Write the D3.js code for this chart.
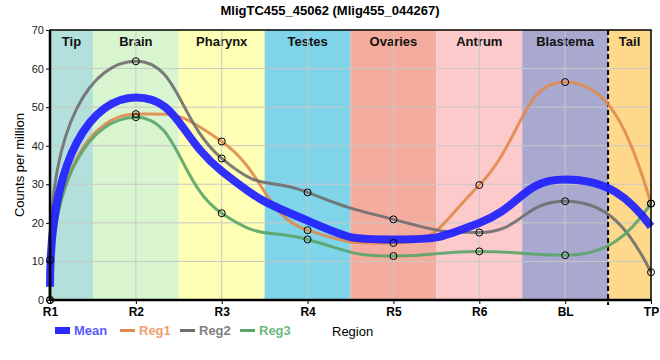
<!DOCTYPE html>
<html><head><meta charset="utf-8">
<script src="https://cdn.jsdelivr.net/npm/d3@7"></script>
<style>body{margin:0;background:#fff;} text{font-family:"Liberation Sans",Arial,sans-serif;}</style>
</head><body>
<svg id="c" width="660" height="360"></svg>
<script>
const categories = ["R1","R2","R3","R4","R5","R6","BL","TP"];
const regions = ["Tip","Brain","Pharynx","Testes","Ovaries","Antrum","Blastema","Tail"];
const regionColors = ["#b4e0dc","#d8f5d0","#fefeb4","#7fd4ea","#f4ac9f","#fdcacc","#a9a8cf","#fed98c"];
const reg1 = [0, 48.2, 41.1, 18.1, 14.8, 29.8, 56.5, 25.0];
const reg2 = [10.4, 61.9, 36.7, 27.9, 20.9, 17.5, 25.6, 7.2];
const reg3 = [0, 47.4, 22.5, 15.7, 11.4, 12.6, 11.6, 25.0];
const mean = categories.map((c,i)=>(reg1[i]+reg2[i]+reg3[i])/3);
const yTicks = [0,10,20,30,40,50,60,70];
const title = "MligTC455_45062 (Mlig455_044267)";

// smooth curve: flat at extrema, long horizontal handles, steep ends
function smoothCurve(ctx){
  let X, Y;
  return {
    areaStart(){}, areaEnd(){},
    lineStart(){X=[];Y=[];},
    point(x,y){X.push(+x);Y.push(+y);},
    lineEnd(){
      const n=X.length, a=0.5, f=1.1, k0=0.7, k1=0.6, b1=0.25;
      const m=new Array(n).fill(0);
      for(let i=1;i<n-1;i++){
        const s0=(Y[i]-Y[i-1])/(X[i]-X[i-1]), s1=(Y[i+1]-Y[i])/(X[i+1]-X[i]);
        const p=(s0+s1)/2;
        m[i]=f*(Math.sign(s0)+Math.sign(s1))*Math.min(Math.abs(s0),Math.abs(s1),0.5*Math.abs(p));
      }
      ctx.moveTo(X[0],Y[0]);
      for(let i=0;i<n-1;i++){
        const h=X[i+1]-X[i];
        let c1x,c1y,c2x,c2y;
        if(i===0){c1x=X[0];c1y=Y[0]+k0*(Y[1]-Y[0]);}
        else {c1x=X[i]+a*h;c1y=Y[i]+m[i]*a*h;}
        if(i+1===n-1){c2x=X[n-1]-b1*h;c2y=Y[n-1]+k1*(Y[n-2]-Y[n-1]);}
        else {c2x=X[i+1]-a*h;c2y=Y[i+1]-m[i+1]*a*h;}
        ctx.bezierCurveTo(c1x,c1y,c2x,c2y,X[i+1],Y[i+1]);
      }
    }
  };
}

const svg = d3.select("#c");
const L=50, R=651, T=30, B=300;
const x = d3.scalePoint().domain(categories).range([L,R]);
const y = d3.scaleLinear().domain([0,70]).range([B,T]);
const step = x.step();

const g = svg.append("g");
regions.forEach((r,i)=>{
  const cx = x(categories[i]);
  const x0 = Math.max(L, cx-step/2), x1 = Math.min(R, cx+step/2);
  g.append("rect").attr("x",x0).attr("y",T).attr("width",x1-x0).attr("height",B-T).attr("fill",regionColors[i]);
  g.append("text").attr("x",(x0+x1)/2).attr("y",T+16).attr("text-anchor","middle")
    .attr("font-size",13).attr("font-weight","bold").attr("fill","#111").text(r);
});
yTicks.slice(1,-1).forEach(v=>{
  g.append("line").attr("x1",L).attr("x2",R).attr("y1",y(v)).attr("y2",y(v)).attr("stroke","#c8c8c8").attr("stroke-width",1);
});
categories.slice(1,-1).forEach(c=>{
  g.append("line").attr("x1",x(c)).attr("x2",x(c)).attr("y1",T).attr("y2",B).attr("stroke","#c8c8c8").attr("stroke-width",1);
});
const xd = x("BL")+step/2;
g.append("line").attr("x1",xd).attr("x2",xd).attr("y1",T).attr("y2",B+5).attr("stroke","#000").attr("stroke-width",2).attr("stroke-dasharray","5,3");

const line = d3.line().x((d,i)=>x(categories[i])).y(d=>y(d)).curve(smoothCurve);
const series = [
  {name:"Reg1", data:reg1, color:"#e08a4c", w:3},
  {name:"Reg2", data:reg2, color:"#6e6e6e", w:3},
  {name:"Reg3", data:reg3, color:"#5aa469", w:3}
];
series.forEach(s=>{
  svg.append("path").attr("d",line(s.data)).attr("fill","none").attr("stroke",s.color).attr("stroke-width",s.w).attr("stroke-opacity",0.9);
});
svg.append("path").attr("d",line(mean)).attr("fill","none").attr("stroke","#2020ff").attr("stroke-width",8).attr("stroke-opacity",0.92);
series.forEach(s=>{
  s.data.forEach((v,i)=>{
    svg.append("circle").attr("cx",x(categories[i])).attr("cy",y(v)).attr("r",3.5)
      .attr("fill","none").attr("stroke","#000").attr("stroke-width",1);
  });
});

svg.append("rect").attr("x",L).attr("y",T).attr("width",R-L).attr("height",B-T).attr("fill","none").attr("stroke","#000").attr("stroke-width",1.5);
svg.append("line").attr("x1",L).attr("x2",L).attr("y1",T).attr("y2",B).attr("stroke","#000").attr("stroke-width",2.5);
svg.append("line").attr("x1",L).attr("x2",R).attr("y1",B).attr("y2",B).attr("stroke","#000").attr("stroke-width",2.5);

const ya = svg.append("g").attr("transform",`translate(${L},0)`).call(d3.axisLeft(y).tickValues(yTicks).tickSize(4).tickPadding(2));
ya.select(".domain").remove();
ya.selectAll("text").attr("font-size",11).attr("fill","#222").style("font-family","Liberation Sans, Arial, sans-serif");
const xa = svg.append("g").attr("transform",`translate(0,${B})`).call(d3.axisBottom(x).tickSize(4).tickPadding(3));
xa.select(".domain").remove();
xa.selectAll("text").attr("font-size",12).attr("font-weight","bold").attr("fill","#000").style("font-family","Liberation Sans, Arial, sans-serif");

svg.append("text").attr("x",330).attr("y",15).attr("text-anchor","middle").attr("font-size",13).attr("font-weight","bold").text(title);
svg.append("text").attr("transform","translate(24,165) rotate(-90)").attr("text-anchor","middle").attr("font-size",13).text("Counts per million");

const leg = [
  {name:"Mean", color:"#2a2aff", text:"#5a5aff", x:55, rect:true},
  {name:"Reg1", color:"#e08a4c", text:"#eea070", x:120},
  {name:"Reg2", color:"#6e6e6e", text:"#808080", x:180},
  {name:"Reg3", color:"#5aa469", text:"#6cb880", x:240}
];
leg.forEach(l=>{
  if(l.rect) svg.append("rect").attr("x",l.x).attr("y",327).attr("width",15).attr("height",7).attr("fill",l.color);
  else svg.append("line").attr("x1",l.x).attr("x2",l.x+15).attr("y1",330.5).attr("y2",330.5).attr("stroke",l.color).attr("stroke-width",3);
  svg.append("text").attr("x",l.x+19).attr("y",335).attr("font-size",13).attr("font-weight","bold").attr("fill",l.text).text(l.name);
});
svg.append("text").attr("x",332).attr("y",336).attr("font-size",13).attr("fill","#000").text("Region");
</script>
</body></html>
